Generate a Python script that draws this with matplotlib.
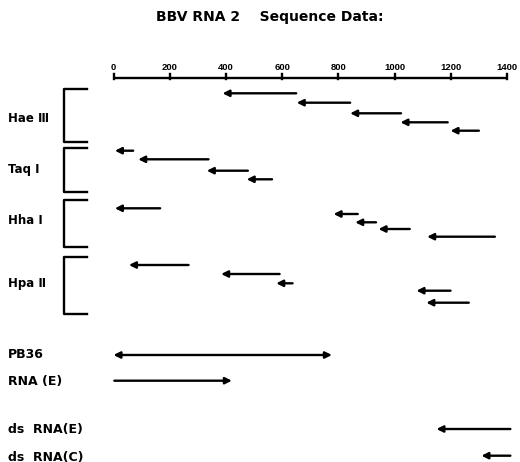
import matplotlib
matplotlib.use("Agg")
import matplotlib.pyplot as plt

# ---------------- data (nucleotide positions) ----------------
title = "BBV RNA 2    Sequence Data:"
scale_ticks = [0, 200, 400, 600, 800, 1000, 1200, 1400]

enzymes = ["Hae Ⅲ", "Taq I", "Hha I", "Hpa Ⅱ"]
# each fragment read as (start = tail, end = arrow tip); reads go right -> left
hae_start = [650, 842, 1023, 1189, 1300]
hae_end = [388, 652, 842, 1021, 1199]
taq_start = [70, 338, 478, 564]
taq_end = [5, 88, 332, 474]
hha_start = [166, 869, 934, 1054, 1357]
hha_end = [5, 783, 860, 943, 1116]
hpa_start = [267, 591, 637, 1199, 1264]
hpa_end = [55, 383, 579, 1078, 1113]

clone_labels = ["PB36", "RNA (E)", "ds  RNA(E)", "ds  RNA(C)"]
clone_start = [0, 3, 1412, 1412]
clone_end = [777, 421, 1149, 1309]
clone_double = [True, False, False, False]

# ---------------- layout (pixels) ----------------
W, H = 520, 462
X0_PX, PX_PER_NT = 113.5, 393.5 / 1400.0
enz_rows = [
    [93.3, 102.7, 113.3, 122.3, 130.7],
    [150.7, 159.3, 170.7, 179.3],
    [208.3, 214.0, 222.3, 229.0, 236.7],
    [265.0, 274.0, 283.3, 290.7, 302.7],
]
enz_brackets = [(89.3, 141.7), (148.3, 191.7), (200.0, 246.7), (256.7, 314.0)]
enz_label_y = [118, 170, 221, 283]
clone_rows = [355.0, 380.7, 429.0, 455.7]
clone_label_y = [355, 381, 430, 457]


def px(p):
    """convert a horizontal pixel position to the data (nucleotide) scale"""
    return (p - X0_PX) / PX_PER_NT


fig = plt.figure(figsize=(W / 100, H / 100), dpi=100)
ax = fig.add_axes([0, 0, 1, 1])
ax.set_xlim(px(0), px(W))
ax.set_ylim(H, 0)
ax.axis("off")

FONT = "Liberation Sans"
LW = 1.7

# title
ax.text(px(270), 17, title, ha="center", va="center", fontsize=10,
        fontweight="bold", family="DejaVu Sans")

# scale bar
axis_y = 78
ax.plot([scale_ticks[0], scale_ticks[-1]], [axis_y, axis_y], color="black",
        lw=LW, solid_capstyle="butt")
for t in scale_ticks:
    ax.plot([t, t], [axis_y - 4, axis_y + 1], color="black", lw=LW)
    ax.text(t, 67.5, str(t), ha="center", va="center", fontsize=6.8,
            fontweight="bold", family=FONT)


def arrow(x_tail, x_tip, y, both=False):
    style = "<|-|>" if both else "-|>"
    ax.annotate("", xy=(x_tip, y), xytext=(x_tail, y),
                arrowprops=dict(arrowstyle=style, lw=LW, color="black",
                                mutation_scale=9.5, shrinkA=0, shrinkB=0))


enz_start = [hae_start, taq_start, hha_start, hpa_start]
enz_end = [hae_end, taq_end, hha_end, hpa_end]
for name, starts, ends, rows, (b0, b1), ly in zip(
        enzymes, enz_start, enz_end, enz_rows, enz_brackets, enz_label_y):
    for s, e, y in zip(starts, ends, rows):
        arrow(s, e, y)
    ax.plot([px(87), px(64), px(64), px(87)], [b0, b0, b1, b1],
            color="black", lw=LW)
    ax.text(px(8), ly, name, ha="left", va="center", fontsize=8.5,
            fontweight="bold", family=["DejaVu Sans"])

for name, s, e, dbl, y, ly in zip(clone_labels, clone_start, clone_end,
                                  clone_double, clone_rows, clone_label_y):
    arrow(s, e, y, both=dbl)
    ax.text(px(8), ly, name, ha="left", va="center", fontsize=9,
            fontweight="bold", family="DejaVu Sans")

fig.savefig("out.png", dpi=100)
